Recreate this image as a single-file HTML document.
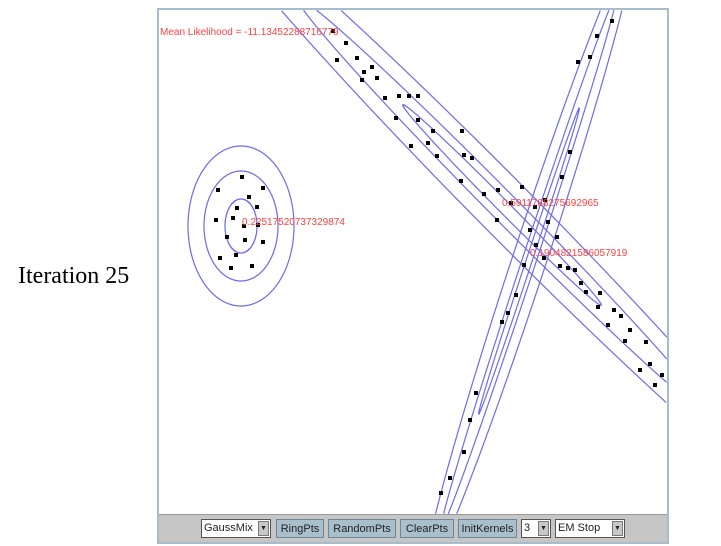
<!DOCTYPE html>
<html style="overflow:hidden"><head><meta charset="utf-8"><style>
html,body{margin:0;width:721px;height:546px;overflow:hidden}
body{background:#fff;position:relative;font-family:"Liberation Sans",sans-serif}
#title{position:absolute;left:18px;top:263px;font:24px "Liberation Serif",serif;color:#000}
#panel{position:absolute;left:157px;top:8px;width:508px;height:532px;border:2px solid #a8bccb;background:#fff;overflow:hidden}
#bar{position:absolute;left:0;bottom:0;width:508px;height:27px;background:#c6c6c6;border-top:1px solid #999}
.btn{position:absolute;top:4px;height:19px;background:#a9bfcc;border:1px solid #6f8796;font-size:11px;line-height:19px;text-align:center;color:#222;box-sizing:border-box}
.sel{position:absolute;top:4px;height:19px;background:#fff;border:1px solid #555;font-size:11px;line-height:17px;padding-left:2px;box-sizing:border-box;color:#222}
.sel i{position:absolute;right:1px;top:1px;width:11px;height:15px;background:#c8c8c8;border:1px solid #777;box-sizing:border-box;font-style:normal;font-size:7px;line-height:13px;text-align:center}
</style></head><body>
<div id="title">Iteration 25</div>
<div id="panel">
<svg id="svg" width="508" height="505" style="position:absolute;left:0;top:0;overflow:hidden"></svg>
<div id="bar">
<div class="sel" style="left:42px;width:70px">GaussMix<i>▼</i></div>
<div class="btn" style="left:117px;width:48px">RingPts</div>
<div class="btn" style="left:169px;width:68px">RandomPts</div>
<div class="btn" style="left:241px;width:54px">ClearPts</div>
<div class="btn" style="left:299px;width:59px">InitKernels</div>
<div class="sel" style="left:362px;width:30px">3<i>▼</i></div>
<div class="sel" style="left:396px;width:70px">EM Stop<i>▼</i></div>
</div>
</div>
<script>
const OX=159, OY=10;
const ptX=[218,242,263,249,237,257,216,233,244,258,227,245,263,220,236,252,231,
333,346,337,357,364,372,377,362,385,399,409,418,396,418,433,411,428,437,462,464,472,461,484,498,497,511,522,535,548,557,536,544,560,568,575,581,586,600,598,614,621,608,630,625,646,650,662,655,640,
612,597,590,578,570,562,545,530,524,516,508,502,476,470,464,450,441];
const ptY=[190,177,188,197,208,207,220,218,226,225,237,240,242,258,255,266,268,
31,43,60,58,72,67,78,80,98,96,96,96,118,120,131,146,143,156,131,155,158,181,194,190,220,203,187,207,222,237,245,258,266,268,270,283,292,293,307,310,316,325,330,341,342,364,375,385,370,
21,36,57,62,152,177,200,230,265,295,313,322,393,420,452,478,493];
const kCX=[241,502,529], kCY=[226,205,261], kAng=[90,45.3,-71.8];
const kMajor=[[80,55,27],[420,290,141],[330,280,161]];
const kMinor=[[53,37,16],[28,14,6],[17,7,3]];
const kLabel=["0.22517520737329874","0.5911788275692965","0.1904821586057919"];
const kLX=[242,502,530], kLY=[225,206,256];
const svg=document.getElementById('svg');const NS='http://www.w3.org/2000/svg';
const W=508,H=504;
function inside(p){return p[0]>=0&&p[0]<=W&&p[1]>=0&&p[1]<=H;}
for(let k=0;k<kCX.length;k++){
 const a=kAng[k]*Math.PI/180,ca=Math.cos(a),sa=Math.sin(a);
 for(let j=0;j<3;j++){
  const N=1440;const pts=[];
  for(let s=0;s<=N;s++){
   const t=2*Math.PI*s/N;
   const u=kMajor[k][j]*Math.cos(t),v=kMinor[k][j]*Math.sin(t);
   pts.push([kCX[k]-OX+u*ca-v*sa,kCY[k]-OY+u*sa+v*ca]);
  }
  // split into runs inside the plot area
  let runs=[],cur=[];
  for(const p of pts){if(inside(p))cur.push(p);else{if(cur.length>1)runs.push(cur);cur=[];}}
  if(cur.length>1)runs.push(cur);
  for(const r of runs){
   const e=document.createElementNS(NS,'polyline');
   
   
   e.setAttribute('points',r.map(p=>p[0].toFixed(1)+','+p[1].toFixed(1)).join(' '));
   e.setAttribute('fill','none');e.setAttribute('stroke','#6b6bf0');e.setAttribute('stroke-width','1.2');
   svg.appendChild(e);
  }
 }
}
for(let i=0;i<ptX.length;i++){
 const r=document.createElementNS(NS,'rect');
 
 
 r.setAttribute('x',ptX[i]-OX-2);r.setAttribute('y',ptY[i]-OY-2);r.setAttribute('width',4);r.setAttribute('height',4);r.setAttribute('fill','#000');
 svg.appendChild(r);
}
for(let k=0;k<kLabel.length;k++){
 const t=document.createElementNS(NS,'text');
 
 
 t.setAttribute('x',kLX[k]-OX);t.setAttribute('y',kLY[k]-OY);t.setAttribute('fill','#ff4040');t.setAttribute('font-size','10');t.setAttribute('font-family','Liberation Sans, sans-serif');
 t.textContent=kLabel[k];svg.appendChild(t);
}
const m=document.createElementNS(NS,'text');


m.setAttribute('x',1);m.setAttribute('y',25);m.setAttribute('fill','#ff4040');m.setAttribute('font-size','10');m.setAttribute('font-family','Liberation Sans, sans-serif');
m.textContent='Mean Likelihood = -11.13452288716779';
svg.appendChild(m);
</script>
</body></html>
